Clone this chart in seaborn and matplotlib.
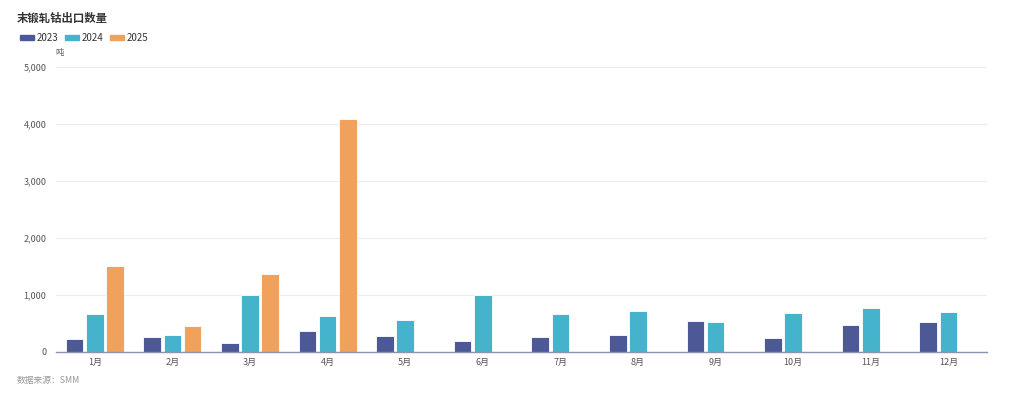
import numpy as np
import pandas as pd
import seaborn as sns
import matplotlib.pyplot as plt

# data (unit: 吨)
months = ['1月', '2月', '3月', '4月', '5月', '6月', '7月', '8月', '9月', '10月', '11月', '12月']
v2023 = [228, 257, 163, 368, 274, 186, 256, 298, 544, 245, 479, 519]
v2024 = [660, 298, 995, 626, 567, 1000, 660, 725, 519, 684, 765, 702]
v2025 = [1514, 456, 1363, 4095, np.nan, np.nan, np.nan, np.nan, np.nan, np.nan, np.nan, np.nan]
years = ['2023', '2024', '2025']
colors = ['#4d5897', '#45b3cb', '#f0a15b']

df = pd.DataFrame({
    'month': months * 3,
    'year': [y for y in years for _ in months],
    'value': v2023 + v2024 + v2025,
})

sns.set_theme(style='white')
plt.rcParams['font.family'] = ['Noto Sans CJK SC', 'DejaVu Sans']

fig = plt.figure(figsize=(10.24, 3.99), dpi=100)
ax = fig.add_axes([0.0547, 0.1178, 0.9093, 0.7142])

sns.barplot(data=df, x='month', y='value', hue='year', order=months, hue_order=years,
            palette=colors, width=0.78, gap=0.13, edgecolor='white', linewidth=0.6,
            saturation=1, ax=ax, legend=False)

ax.set_ylim(0, 5000)
ax.set_xlim(-0.5, 11.5)
ax.set_yticks(range(0, 5001, 1000))
ax.set_yticklabels([f'{v:,}' for v in range(0, 5001, 1000)], fontsize=6.5, color='#555555')
ax.tick_params(axis='x', labelsize=6.5, labelcolor='#555555', length=0, pad=4)
ax.tick_params(axis='y', length=0, pad=7)
ax.set_xlabel('')
ax.set_ylabel('')
ax.grid(axis='y', color='#ececec', linewidth=0.8)
ax.set_axisbelow(True)
for s in ['top', 'right', 'left']:
    ax.spines[s].set_visible(False)
ax.spines['bottom'].set_color('#8c93b0')
ax.spines['bottom'].set_linewidth(1)

fig.text(17 / 1024, 1 - 18 / 399, '末锻轧钴出口数量', fontsize=8.2, fontweight='bold',
         color='#333333', va='center', ha='left')
fig.text(60 / 1024, 1 - 53 / 399, '吨', fontsize=6, color='#555555', va='center', ha='center')
fig.text(17 / 1024, 1 - 381 / 399, '数据来源：SMM', fontsize=6.3,
         color='#999999', va='center', ha='left')

handles = [plt.Rectangle((0, 0), 1, 1, color=c) for c in colors]
fig.legend(handles, years, loc='center left', bbox_to_anchor=(11 / 1024, 1 - 38 / 399),
           ncol=3, frameon=False, fontsize=7, handlelength=1.45, handleheight=0.55,
           handletextpad=0.3, columnspacing=0.65, labelcolor='#333333')

fig.savefig('out.png', dpi=100)
